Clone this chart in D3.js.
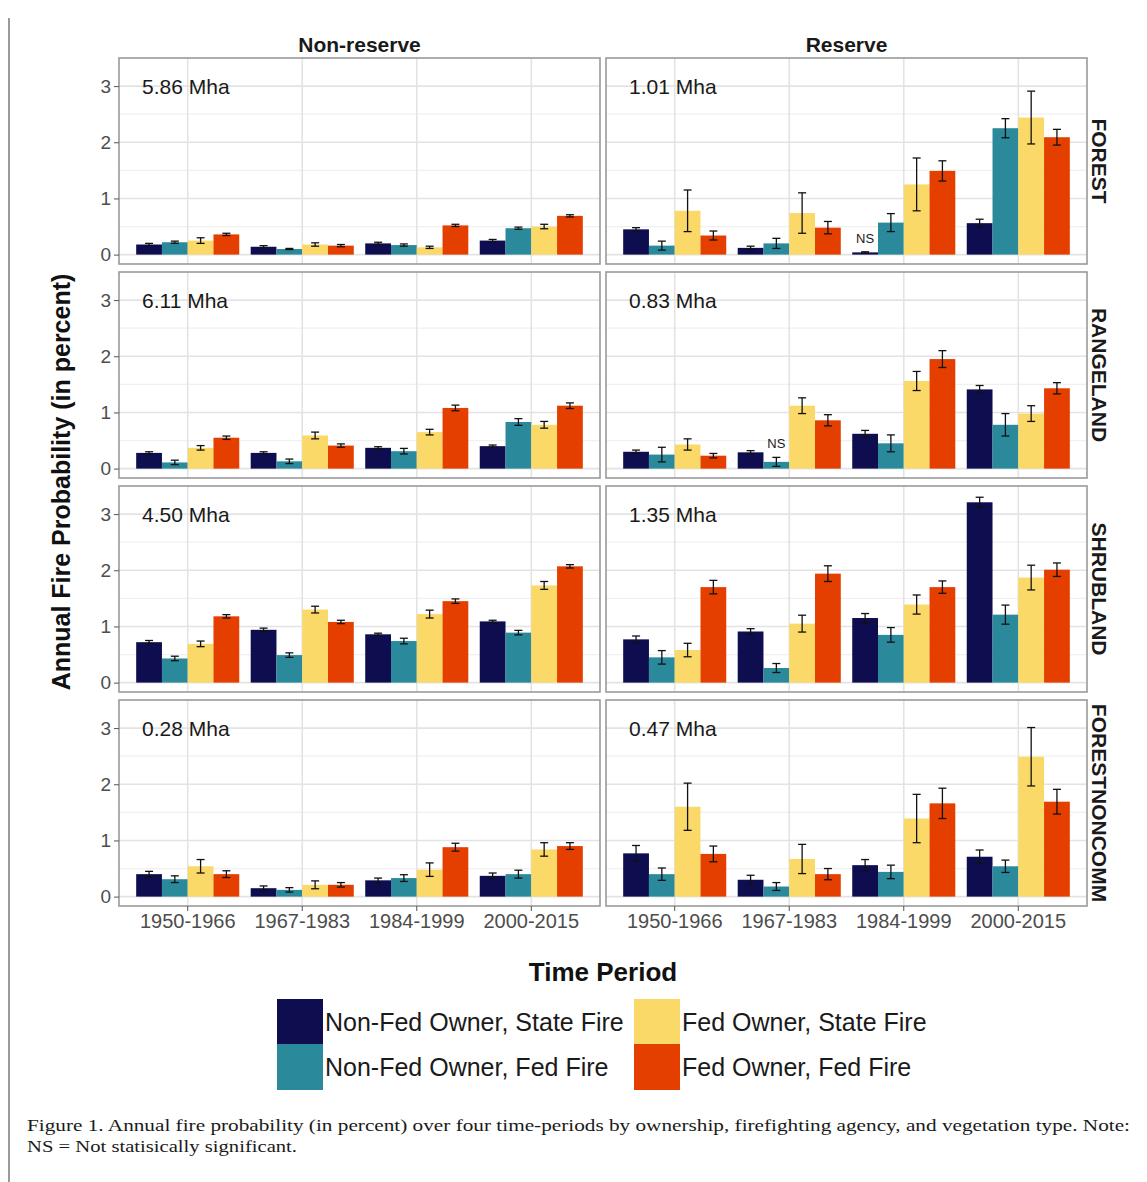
<!DOCTYPE html>
<html><head><meta charset="utf-8">
<script src="https://cdn.jsdelivr.net/npm/d3@7"></script>
<style>
body{margin:0;background:#fff;}
svg text{font-family:"Liberation Sans",Arial,Helvetica,sans-serif;}
</style>
</head><body>
<svg id="chart" width="1147" height="1182"></svg>
<script>
// ---------------- DATA ----------------
const periods = ["1950-1966","1967-1983","1984-1999","2000-2015"];
const seriesNames = ["Non-Fed Owner, State Fire","Non-Fed Owner, Fed Fire","Fed Owner, State Fire","Fed Owner, Fed Fire"];
const seriesColors = ["#0e0d50","#2a8a9b","#fbd968","#e53f00"];
const vegTypes = ["FOREST","RANGELAND","SHRUBLAND","FORESTNONCOMM"];
const reserveTypes = ["Non-reserve","Reserve"];
const yTickValues = [0,1,2,3];
const areaNonReserve = ["5.86 Mha","6.11 Mha","4.50 Mha","0.28 Mha"];
const areaReserve = ["1.01 Mha","0.83 Mha","1.35 Mha","0.47 Mha"];

// values: per period, the four series in order
const forestNonReserve = [[0.18,0.22,0.25,0.36],[0.14,0.10,0.18,0.16],[0.20,0.17,0.13,0.52],[0.25,0.47,0.50,0.69]];
const forestNonReserveErr = [[0.02,0.02,0.05,0.02],[0.02,0.01,0.03,0.02],[0.02,0.02,0.02,0.02],[0.02,0.02,0.04,0.02]];
const forestReserve = [[0.45,0.16,0.78,0.34],[0.12,0.20,0.74,0.48],[0.04,0.57,1.25,1.49],[0.56,2.25,2.44,2.09]];
const forestReserveErr = [[0.03,0.08,0.37,0.08],[0.03,0.09,0.36,0.11],[0.01,0.16,0.47,0.18],[0.07,0.17,0.47,0.14]];

const rangeNonReserve = [[0.28,0.11,0.37,0.55],[0.28,0.13,0.59,0.41],[0.37,0.31,0.65,1.08],[0.40,0.83,0.78,1.12]];
const rangeNonReserveErr = [[0.02,0.04,0.04,0.03],[0.02,0.04,0.06,0.03],[0.02,0.05,0.05,0.05],[0.02,0.06,0.06,0.05]];
const rangeReserve = [[0.30,0.25,0.43,0.23],[0.29,0.12,1.12,0.86],[0.62,0.45,1.56,1.95],[1.41,0.78,0.98,1.43]];
const rangeReserveErr = [[0.03,0.13,0.10,0.04],[0.03,0.08,0.14,0.10],[0.06,0.15,0.17,0.15],[0.07,0.20,0.14,0.10]];

const shrubNonReserve = [[0.72,0.43,0.69,1.18],[0.94,0.49,1.30,1.08],[0.86,0.74,1.22,1.45],[1.09,0.89,1.73,2.07]];
const shrubNonReserveErr = [[0.03,0.04,0.05,0.03],[0.03,0.04,0.06,0.03],[0.02,0.05,0.07,0.04],[0.02,0.04,0.07,0.03]];
const shrubReserve = [[0.77,0.45,0.58,1.70],[0.91,0.26,1.05,1.94],[1.15,0.85,1.39,1.70],[3.21,1.21,1.87,2.01]];
const shrubReserveErr = [[0.06,0.12,0.12,0.12],[0.05,0.08,0.15,0.14],[0.08,0.13,0.17,0.11],[0.09,0.17,0.22,0.12]];

const fncNonReserve = [[0.40,0.31,0.54,0.40],[0.15,0.12,0.21,0.21],[0.29,0.33,0.48,0.88],[0.37,0.40,0.84,0.90]];
const fncNonReserveErr = [[0.05,0.06,0.12,0.06],[0.04,0.04,0.07,0.04],[0.04,0.06,0.12,0.07],[0.05,0.07,0.12,0.06]];
const fncReserve = [[0.77,0.40,1.60,0.76],[0.30,0.18,0.67,0.40],[0.56,0.44,1.39,1.66],[0.71,0.54,2.49,1.69]];
const fncReserveErr = [[0.14,0.11,0.42,0.14],[0.08,0.07,0.26,0.10],[0.10,0.12,0.43,0.27],[0.12,0.11,0.52,0.22]];

// not-significant flags: [vegetation, reserve, period index, series index]
const nsFlags = [["FOREST","Reserve",2,0],["RANGELAND","Reserve",1,1]];

const captionLines = [
  "Figure 1. Annual fire probability (in percent) over four time-periods by ownership, firefighting agency, and vegetation type. Note:",
  "NS = Not statisically significant."
];

// ---------------- LAYOUT ----------------
const panelData = {
  "FOREST": [[forestNonReserve,forestNonReserveErr],[forestReserve,forestReserveErr]],
  "RANGELAND": [[rangeNonReserve,rangeNonReserveErr],[rangeReserve,rangeReserveErr]],
  "SHRUBLAND": [[shrubNonReserve,shrubNonReserveErr],[shrubReserve,shrubReserveErr]],
  "FORESTNONCOMM": [[fncNonReserve,fncNonReserveErr],[fncReserve,fncReserveErr]]
};
const areaLabels = [areaNonReserve, areaReserve];

const svg = d3.select("#chart");
svg.append("rect").attr("width",1147).attr("height",1182).attr("fill","#fff");

const colX = [119, 606];
const panelW = 481;
const rowY = [58, 272, 486, 700];
const panelH = 206;

// ggplot-like discrete expansion (0.6 units each side)
const x = d3.scaleBand().domain(periods).range([0, panelW]).paddingInner(0).paddingOuter(0.1);
const xCenter = p => x(p) + x.bandwidth()/2;
const xs = d3.scaleBand().domain(d3.range(4)).range([-x.bandwidth()*0.45, x.bandwidth()*0.45]);
const y = d3.scaleLinear().domain([-0.167, 3.5]).range([panelH, 0]);
const color = d3.scaleOrdinal().domain(seriesNames).range(seriesColors);

// left page rule
svg.append("line").attr("x1",9).attr("x2",9).attr("y1",18).attr("y2",1182)
  .attr("stroke","#9a9a9a").attr("stroke-width",2);

// top strips
reserveTypes.forEach((r,ci)=>{
  svg.append("text").attr("x", colX[ci]+panelW/2).attr("y", 52)
    .attr("text-anchor","middle").attr("font-size",21).attr("font-weight","bold")
    .attr("fill","#1a1a1a").text(r);
});

vegTypes.forEach((veg, ri)=>{
  const sy = rowY[ri] + panelH/2;
  svg.append("text").attr("transform",`translate(1092,${sy}) rotate(90)`)
    .attr("text-anchor","middle").attr("font-size",21).attr("font-weight","bold")
    .attr("fill","#1a1a1a").text(veg);

  reserveTypes.forEach((res, ci)=>{
    const g = svg.append("g").attr("transform",`translate(${colX[ci]},${rowY[ri]})`);
    const [vals, errs] = panelData[veg][ci];
    g.append("rect").attr("width",panelW).attr("height",panelH).attr("fill","#fff");
    [0.5,1.5,2.5].forEach(v=>{
      g.append("line").attr("x1",0).attr("x2",panelW).attr("y1",y(v)).attr("y2",y(v))
        .attr("stroke","#f0f0f0").attr("stroke-width",1.2);
    });
    yTickValues.forEach(v=>{
      g.append("line").attr("x1",0).attr("x2",panelW).attr("y1",y(v)).attr("y2",y(v))
        .attr("stroke","#e3e3e3").attr("stroke-width",1.6);
    });
    periods.forEach(p=>{
      g.append("line").attr("x1",xCenter(p)).attr("x2",xCenter(p)).attr("y1",0).attr("y2",panelH)
        .attr("stroke","#e3e3e3").attr("stroke-width",1.6);
    });
    const rows = [];
    periods.forEach((p,pi)=>{
      seriesNames.forEach((s,si)=>{
        rows.push({p, pi, s, si, v: vals[pi][si], e: errs[pi][si]});
      });
    });
    g.selectAll("rect.bar").data(rows).join("rect").attr("class","bar")
      .attr("x", d=>xCenter(d.p)+xs(d.si))
      .attr("width", xs.bandwidth())
      .attr("y", d=>y(d.v))
      .attr("height", d=>y(0)-y(d.v))
      .attr("fill", d=>color(d.s));
    const cap = 4;
    const cx = d=>xCenter(d.p)+xs(d.si)+xs.bandwidth()/2;
    const lo = d=>y(Math.max(0,d.v-d.e)), hi = d=>y(d.v+d.e);
    const eg = g.selectAll("g.err").data(rows).join("g").attr("class","err")
      .attr("stroke","#111").attr("stroke-width",1.3);
    eg.append("line").attr("x1", cx).attr("x2", cx).attr("y1", lo).attr("y2", hi);
    eg.append("line").attr("x1", d=>cx(d)-cap).attr("x2", d=>cx(d)+cap).attr("y1", hi).attr("y2", hi);
    eg.append("line").attr("x1", d=>cx(d)-cap).attr("x2", d=>cx(d)+cap).attr("y1", lo).attr("y2", lo);
    nsFlags.filter(f=>f[0]===veg && f[1]===res).forEach(f=>{
      const p = periods[f[2]], si = f[3];
      const v = vals[f[2]][si] + errs[f[2]][si];
      g.append("text").attr("x", xCenter(p)+xs(si)+xs.bandwidth()/2)
        .attr("y", y(v+0.24)).attr("dy","0.35em").attr("text-anchor","middle")
        .attr("font-size",13).attr("fill","#1a1a1a").text("NS");
    });
    g.append("text").attr("x", 23).attr("y", 29).attr("dy","0.35em")
      .attr("font-size",21).attr("fill","#1a1a1a").text(areaLabels[ci][ri]);
    g.append("rect").attr("width",panelW).attr("height",panelH).attr("fill","none")
      .attr("stroke","#9a9a9a").attr("stroke-width",1.6);
    if (ci===0){
      const ax = g.append("g").call(d3.axisLeft(y).tickValues(yTickValues).tickSize(5).tickPadding(3).tickFormat(d3.format("d")));
      ax.select(".domain").remove();
      ax.selectAll("line").attr("stroke","#555");
      ax.selectAll("text").attr("font-size",19).attr("fill","#4d4d4d")
        .style("font-family","'Liberation Sans',Arial,sans-serif");
    }
    if (ri===vegTypes.length-1){
      const ax = g.append("g").attr("transform",`translate(0,${panelH})`)
        .call(d3.axisBottom(x).tickSize(5).tickPadding(3));
      ax.select(".domain").remove();
      ax.selectAll("line").attr("stroke","#555");
      ax.selectAll("text").attr("font-size",20).attr("fill","#4d4d4d")
        .style("font-family","'Liberation Sans',Arial,sans-serif");
    }
  });
});

// axis titles
svg.append("text").attr("x", (colX[0]+colX[1]+panelW)/2).attr("y", 981)
  .attr("text-anchor","middle").attr("font-size",26).attr("font-weight","bold")
  .attr("fill","#111").text("Time Period");
svg.append("text").attr("transform",`translate(70,${(rowY[0]+rowY[3]+panelH)/2}) rotate(-90)`)
  .attr("text-anchor","middle").attr("font-size",25).attr("font-weight","bold")
  .attr("fill","#111").text("Annual Fire Probability (in percent)");

// legend (two columns, filled column-wise)
const legendCols = [277, 634];
const legendRows = [999, 1044];
const keySize = 46;
seriesNames.forEach((s,i)=>{
  const c = Math.floor(i/2), r = i%2;
  svg.append("rect").attr("x", legendCols[c]).attr("y", legendRows[r])
    .attr("width", keySize).attr("height", keySize).attr("fill", color(s));
  svg.append("text").attr("x", legendCols[c]+keySize+2).attr("y", legendRows[r]+keySize/2)
    .attr("dy","0.35em").attr("font-size",25).attr("fill","#1a1a1a").text(s);
});

// caption
svg.append("text").attr("x",27).attr("y",1131).attr("font-size",17)
  .style("font-family","'Liberation Serif','Times New Roman',serif")
  .attr("textLength",1103).attr("lengthAdjust","spacingAndGlyphs")
  .attr("fill","#1a1a1a").text(captionLines[0]);
svg.append("text").attr("x",27).attr("y",1152).attr("font-size",17)
  .style("font-family","'Liberation Serif','Times New Roman',serif")
  .attr("textLength",270).attr("lengthAdjust","spacingAndGlyphs")
  .attr("fill","#1a1a1a").text(captionLines[1]);
</script>
</body></html>
